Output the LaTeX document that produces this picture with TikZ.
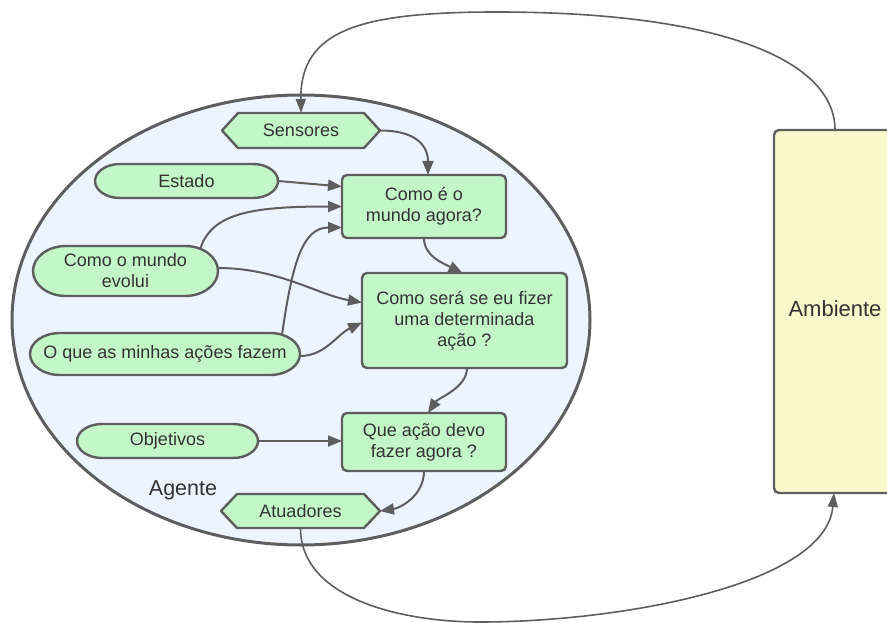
\documentclass[tikz,border=0pt]{standalone}
\usepackage{fontspec}
\setmainfont{Liberation Sans}
\usetikzlibrary{arrows.meta}

\definecolor{edge}{HTML}{5E5E5E}
\definecolor{leaf}{HTML}{C3F7C8}
\definecolor{agentbg}{HTML}{ECF4FF}
\definecolor{envbg}{HTML}{FAF9CD}
\definecolor{ink}{HTML}{333333}

\pgfdeclarelayer{shapes}
\pgfsetlayers{shapes,main}

\tikzset{
  txt/.style={font=\fontsize{18pt}{21pt}\selectfont, text=ink, align=center},
  box/.style={txt, rectangle, rounded corners=5pt, draw=edge, line width=2.4pt,
              fill=leaf, inner sep=0pt, outer sep=0pt},
  plain/.style={txt, rectangle, draw=none, fill=none, inner sep=0pt, outer sep=0pt},
  outline/.style={draw=edge, line width=2.4pt, fill=leaf, line join=round},
  flow/.style={draw=edge, line width=2pt, -{Triangle[length=14pt,width=11pt]}},
  cycleflow/.style={draw=edge, line width=1.6pt, -{Triangle[length=14pt,width=10pt]}},
}

% stadium-like terminator drawn behind a text node: node, end radius, half height
\newcommand\termshape[3]{%
  \begin{pgfonlayer}{shapes}
    \path[outline] ([xshift=#2]#1.north west) -- ([xshift=-#2]#1.north east)
      arc[start angle=90,end angle=-90,x radius=#2,y radius=#3]
      -- ([xshift=#2]#1.south west)
      arc[start angle=270,end angle=90,x radius=#2,y radius=#3] -- cycle;
  \end{pgfonlayer}}

% hexagon drawn behind a text node: node, point depth
\newcommand\hexshape[2]{%
  \begin{pgfonlayer}{shapes}
    \path[outline] (#1.west) -- ([xshift=#2]#1.north west) -- ([xshift=-#2]#1.north east)
      -- (#1.east) -- ([xshift=-#2]#1.south east) -- ([xshift=#2]#1.south west) -- cycle;
  \end{pgfonlayer}}

\begin{document}
\begin{tikzpicture}[x=1pt,y=-1pt]
  \useasboundingbox (0,0) rectangle (887,623);
  \clip (0,0) rectangle (887,623);

  % agent boundary
  \begin{pgfonlayer}{shapes}
    \draw[draw=edge, line width=3pt, fill=agentbg] (301,320) ellipse [x radius=289, y radius=225];
  \end{pgfonlayer}

  % inner blocks
  \node[box, minimum width=164pt, minimum height=63pt] (comoe) at (424,206.5) {Como é o\\mundo agora?};
  \node[box, minimum width=205pt, minimum height=95pt] (sera) at (464.5,320.5) {Como será se eu fizer\\uma determinada\\ação ?};
  \node[box, minimum width=164pt, minimum height=58pt] (queacao) at (424,442) {Que ação devo\\fazer agora ?};

  % environment
  \node[box, fill=envbg, minimum width=122pt, minimum height=363pt,
        font=\fontsize{22pt}{26pt}\selectfont] (amb) at (835,311.5) {\raisebox{5pt}{Ambiente}};

  % knowledge terminators
  \node[plain, minimum width=183pt, minimum height=34pt] (estado) at (186.5,181) {Estado};
  \termshape{estado}{25pt}{17pt}
  \node[plain, minimum width=185pt, minimum height=50pt] (evolui) at (125.5,271) {Como o mundo\\evolui};
  \termshape{evolui}{33pt}{25pt}
  \node[plain, minimum width=270pt, minimum height=42pt] (acoes) at (165,354) {O que as minhas ações fazem};
  \termshape{acoes}{30pt}{21pt}
  \node[plain, minimum width=181pt, minimum height=34pt] (objet) at (167.5,441) {Objetivos};
  \termshape{objet}{25pt}{17pt}

  % sensors and actuators
  \node[plain, minimum width=158pt, minimum height=35pt] (sens) at (301,130.5) {Sensores};
  \hexshape{sens}{16pt}
  \node[plain, minimum width=159pt, minimum height=34pt] (atua) at (300.5,511) {Atuadores};
  \hexshape{atua}{16pt}

  \node[plain, font=\fontsize{21.5pt}{25pt}\selectfont] (agente) at (183,490) {Agente};

  % internal flow
  \draw[flow] (sens.east) .. controls +(35,0) and +(0,-30) .. ([xshift=4pt]comoe.north);
  \draw[flow] (estado.east) -- ([yshift=20pt]comoe.west);
  \draw[flow] ([xshift=75pt,yshift=-2pt]evolui.north) .. controls +(12,-35) and +(-90,0) .. (comoe.west);
  \draw[flow] ([xshift=117pt,yshift=-2pt]acoes.north) .. controls +(10,-70) and +(-40,0) .. ([yshift=-21pt]comoe.west);
  \draw[flow] ([yshift=3pt]evolui.east) .. controls +(60,0) and +(-45,-8) .. ([yshift=18pt]sera.west);
  \draw[flow] ([yshift=-2pt]acoes.east) .. controls +(25,0) and +(-25,12) .. ([yshift=-2pt]sera.west);
  \draw[flow] (comoe.south) .. controls +(0,18) and +(-20,-10) .. ([xshift=-2pt]sera.north);
  \draw[flow] ([xshift=2.5pt]sera.south) .. controls +(0,20) and +(10,-15) .. ([xshift=4pt]queacao.north);
  \draw[flow] (objet.east) -- (queacao.west |- objet.east);
  \draw[flow] (queacao.south) .. controls +(0,25) and +(20,-3) .. (atua.east);

  % agent / environment loop
  \draw[cycleflow] (atua.south) .. controls +(0,70) and (400,622) .. (480,622)
    .. controls (620,622) and (826,585) .. ([xshift=-1pt]amb.south);
  \draw[cycleflow] (amb.north) .. controls +(0,-70) and (720,12) .. (497,12)
    .. controls (360,12) and (300,30) .. (sens.north);
\end{tikzpicture}
\end{document}
